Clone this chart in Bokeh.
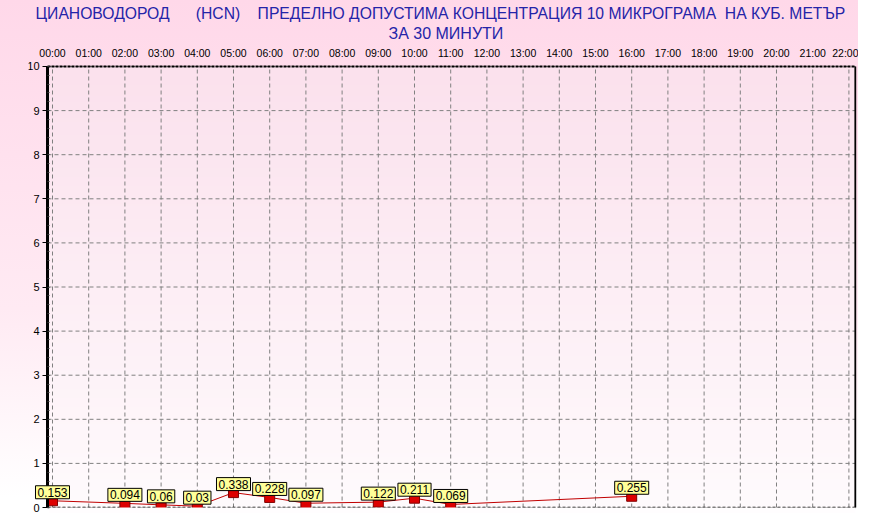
import numpy as np
from bokeh.plotting import figure
from bokeh.models import (Range1d, FixedTicker, ColumnDataSource,
                          Title, Label, BoxAnnotation)
from bokeh.embed import file_html
from bokeh.resources import INLINE

# ---- data ----
hours = [0, 2, 3, 4, 5, 6, 7, 9, 10, 11, 16]
values = [0.153, 0.094, 0.06, 0.03, 0.338, 0.228, 0.097, 0.122, 0.211, 0.069, 0.255]
value_labels = [str(v) for v in values]
x_ticks = list(range(0, 23))
x_tick_labels = ["%02d:00" % h for h in x_ticks]
y_ticks = list(range(0, 11))
NB = "\u00a0"
title_line1 = ("ЦИАНОВОДОРОД" + NB * 6 + "(HCN)" + NB * 4 +
               "ПРЕДЕЛНО ДОПУСТИМА КОНЦЕНТРАЦИЯ 10 МИКРОГРАМА" + NB * 2 + "НА КУБ. МЕТЪР")
title_line2 = "ЗА 30 МИНУТИ"

FONT = "Liberation Sans"
x_frame0 = -0.663   # frame starts a little left of the y axis
x_axis0 = -0.138    # where the y axis sits
x1 = 22.18
y_min, y_max = 0, 10
pad = 0.136         # room inside the frame for the end tick labels

p = figure(width=858, height=513, output_backend="svg", toolbar_location=None,
           x_axis_location="above", x_range=Range1d(x_frame0, x1 + 0.03),
           y_range=Range1d(y_min - pad, y_max + pad),
           min_border_left=28, min_border_right=2, min_border_bottom=0,
           min_border_top=60)
# page-like background: pink at the top fading to white at the bottom
p.styles = {"background": "linear-gradient(to bottom, #FFD8E9 0%, #FFEAF3 60%, #FFFFFF 97%)"}
p.border_fill_alpha = 0
p.background_fill_alpha = 0
p.outline_line_color = None
p.grid.visible = False

# plot-area background gradient (pink at top to near white at bottom)
n = 200
top = np.array([251, 225, 237], dtype=float)
bot = np.array([255, 251, 253], dtype=float)
t = np.linspace(0, 1, n)[:, None]  # row 0 = bottom
cols = bot * (1 - t) + top * t
img = np.zeros((n, 1), dtype=np.uint32)
view = img.view(dtype=np.uint8).reshape((n, 1, 4))
view[:, 0, 0] = cols[:, 0]
view[:, 0, 1] = cols[:, 1]
view[:, 0, 2] = cols[:, 2]
view[:, 0, 3] = 255
p.image_rgba(image=[img], x=x_axis0, y=y_min, dw=x1 - x_axis0, dh=y_max - y_min, level="image")

# titles
p.add_layout(Title(text=title_line2, align="left", text_font=FONT, text_font_size="16px",
                   text_color="#2424A8", text_font_style="normal", standoff=3, offset=360), "above")
p.add_layout(Title(text=title_line1, align="left", text_font=FONT, text_font_size="15.7px",
                   text_color="#2424A8", text_font_style="normal", standoff=0, offset=7), "above")

# x axis (top): labels only, the edge itself is drawn below
xa = p.xaxis[0]
xa.ticker = FixedTicker(ticks=x_ticks)
xa.major_label_overrides = {h: lab for h, lab in zip(x_ticks, x_tick_labels)}
xa.major_label_text_font = FONT
xa.major_label_text_font_size = "10.5px"
xa.major_label_text_color = "black"
xa.major_label_standoff = 2
xa.axis_line_color = None
xa.major_tick_in = 0
xa.major_tick_out = 0
xa.minor_tick_line_color = None

# y axis (left), drawn at x_axis0 inside the frame
ya = p.yaxis[0]
ya.fixed_location = x_axis0
ya.bounds = (y_min, y_max)
ya.ticker = FixedTicker(ticks=y_ticks, minor_ticks=[i * 0.2 for i in range(51)])
ya.major_label_text_font = FONT
ya.major_label_text_font_size = "11px"
ya.major_label_text_color = "black"
ya.major_label_standoff = 3
ya.axis_line_color = "black"
ya.axis_line_width = 3
ya.major_tick_in = 0
ya.major_tick_out = 5
ya.minor_tick_in = 2
ya.minor_tick_out = 0
ya.major_tick_line_color = "black"
ya.minor_tick_line_color = "#333333"

# dashed grid inside the plotting rectangle, one line per tick
p.segment(x0=x_ticks, y0=[y_min] * len(x_ticks), x1=x_ticks, y1=[y_max] * len(x_ticks),
          line_color="#808080", line_dash="4 3", line_width=1)
p.segment(x0=[x_axis0] * len(y_ticks), y0=y_ticks, x1=[x1] * len(y_ticks), y1=y_ticks,
          line_color="#808080", line_dash="4 3", line_width=1)

# frame edges: dashed top and bottom, solid right
p.segment(x0=[x_axis0], y0=[y_max], x1=[x1], y1=[y_max], line_color="black",
          line_width=2, line_dash="3 1")
p.segment(x0=[x_axis0], y0=[y_min], x1=[x1], y1=[y_min], line_color="black",
          line_width=1.5, line_dash="3 2")
p.segment(x0=[x1], y0=[y_min], x1=[x1], y1=[y_max], line_color="black", line_width=2)

src = ColumnDataSource(dict(x=hours, y=values, lab=value_labels))
p.line("x", "y", source=src, line_color="#C00000", line_width=1)
p.rect("x", "y", width=10, height=10, width_units="screen", height_units="screen",
       source=src, fill_color="#DD0000", line_color="#800000", line_width=1)

# markers are cut at the bottom edge of the plotting rectangle
p.add_layout(BoxAnnotation(top=y_min, left=x_axis0 + 0.05, right=x1, fill_color="#FFFDFE",
                           fill_alpha=1, line_color=None, level="annotation"))

for hx, vy, lab in zip(hours, values, value_labels):
    p.add_layout(Label(x=hx, y=vy, text=lab, text_align="center",
                       text_baseline="bottom", y_offset=2, text_font=FONT,
                       text_font_size="12px", text_color="black",
                       background_fill_color="#FFFF99", border_line_color="black",
                       border_line_width=1, padding=2))

open("out.html", "w").write(file_html(p, INLINE))
